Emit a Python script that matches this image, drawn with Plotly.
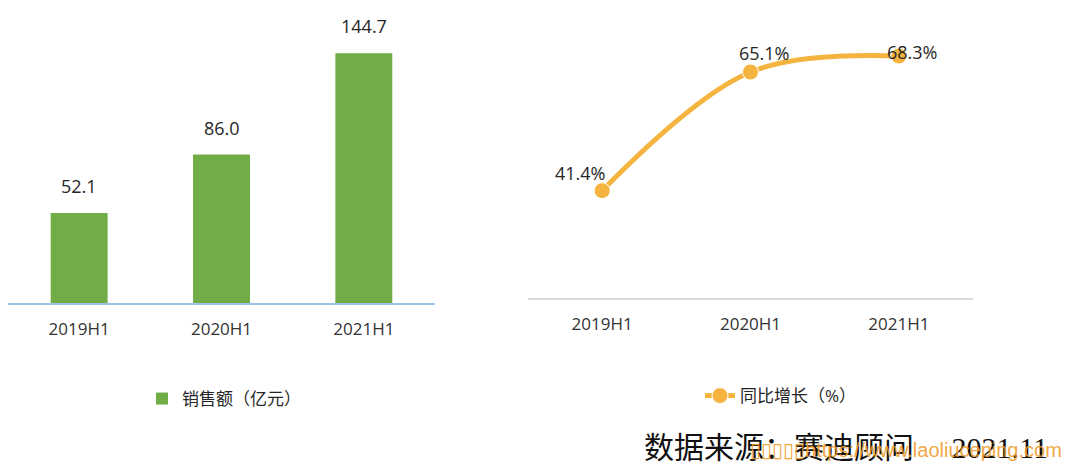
import plotly.graph_objects as go

# ---- data ----
categories = ["2019H1", "2020H1", "2021H1"]
sales = [52.1, 86.0, 144.7]            # 销售额（亿元）
sales_labels = ["52.1", "86.0", "144.7"]
growth = [41.4, 65.1, 68.3]             # 同比增长（%）
growth_labels = ["41.4%", "65.1%", "68.3%"]

bar_name = "销售额（亿元）"
line_name = "同比增长（%）"
source_text = "数据来源：赛迪顾问 　2021.11"
watermark_text = "▯▯▯▯▯https://www.laoliuceping.com"

# ---- style ----
W, H = 1072, 476
BAR_COLOR = "#70AD47"
LINE_COLOR = "#F4B43F"
TEXT_COLOR = "#262626"
TICK_COLOR = "#333333"
FONT = "Open Sans, Noto Sans CJK SC, sans-serif"
growth_label_offsets = [(-22, 18), (13, 19), (13, 4)]


def px_x(v):
    return v / W


def px_y(v):
    return (H - v) / H


fig = go.Figure()

fig.add_trace(go.Bar(
    x=categories, y=sales, name=bar_name, showlegend=True,
    marker=dict(color=BAR_COLOR, line=dict(width=0)),
    xaxis="x", yaxis="y", legend="legend", hoverinfo="skip",
))

fig.add_trace(go.Scatter(
    x=categories, y=growth, name=line_name, mode="lines+markers", showlegend=True,
    line=dict(color=LINE_COLOR, width=5, shape="spline", smoothing=1.0),
    marker=dict(color=LINE_COLOR, size=16, line=dict(color="white", width=1)),
    xaxis="x2", yaxis="y2", legend="legend2", cliponaxis=False, hoverinfo="skip",
))

annotations = []
for c, v, t in zip(categories, sales, sales_labels):
    annotations.append(dict(
        x=c, y=v, xref="x", yref="y", text=t, showarrow=False,
        yanchor="middle", yshift=27,
        font=dict(family=FONT, size=18, color=TEXT_COLOR),
    ))
for c, v, t, (dx, dy) in zip(categories, growth, growth_labels, growth_label_offsets):
    annotations.append(dict(
        x=c, y=v, xref="x2", yref="y2", text=t, showarrow=False,
        xanchor="center", yanchor="middle", xshift=dx, yshift=dy,
        font=dict(family=FONT, size=18, color=TEXT_COLOR),
    ))

annotations.append(dict(
    x=px_x(642), y=px_y(447), xref="paper", yref="paper", text=source_text,
    showarrow=False, xanchor="left", yanchor="middle",
    font=dict(family="Liberation Serif, Noto Sans CJK SC, serif", size=30, color="#111111"),
))
annotations.append(dict(
    x=px_x(1064), y=px_y(450), xref="paper", yref="paper", text=watermark_text,
    showarrow=False, xanchor="right", yanchor="middle",
    font=dict(family="Liberation Sans, DejaVu Sans, sans-serif", size=20, color="rgba(240,155,40,0.9)"),
))

fig.update_layout(
    width=W, height=H,
    margin=dict(l=0, r=0, t=0, b=0),
    paper_bgcolor="white", plot_bgcolor="white",
    bargap=0.6,
    showlegend=True,
    font=dict(family=FONT, color=TEXT_COLOR),
    xaxis=dict(
        domain=[px_x(8), px_x(435)], showgrid=False, zeroline=False,
        showline=True, linecolor="#9DC3E6", linewidth=1.5,
        ticks="", ticklabelstandoff=10,
        tickfont=dict(family=FONT, size=17, color=TICK_COLOR), fixedrange=True,
    ),
    yaxis=dict(
        domain=[px_y(303), px_y(20)], range=[0, 164], visible=False, fixedrange=True,
    ),
    xaxis2=dict(
        domain=[px_x(528), px_x(973)], anchor="y2", range=[-0.5, 2.5],
        showgrid=False, zeroline=False,
        showline=True, linecolor="#D9D9D9", linewidth=2,
        ticks="", ticklabelstandoff=10,
        tickfont=dict(family=FONT, size=17, color=TICK_COLOR), fixedrange=True,
    ),
    yaxis2=dict(
        domain=[px_y(297.7), px_y(20)], range=[20, 75.5], anchor="x2",
        visible=False, fixedrange=True,
    ),
    legend=dict(
        x=px_x(142), y=px_y(399), xanchor="left", yanchor="middle",
        orientation="h", bgcolor="rgba(0,0,0,0)", visible=True,
        font=dict(family=FONT, size=17, color=TEXT_COLOR),
    ),
    legend2=dict(
        x=px_x(700), y=px_y(396), xanchor="left", yanchor="middle",
        orientation="h", bgcolor="rgba(0,0,0,0)", visible=True,
        font=dict(family=FONT, size=17, color=TEXT_COLOR),
    ),
    annotations=annotations,
)

fig.write_html("out.html", config={"displayModeBar": False, "staticPlot": True})
